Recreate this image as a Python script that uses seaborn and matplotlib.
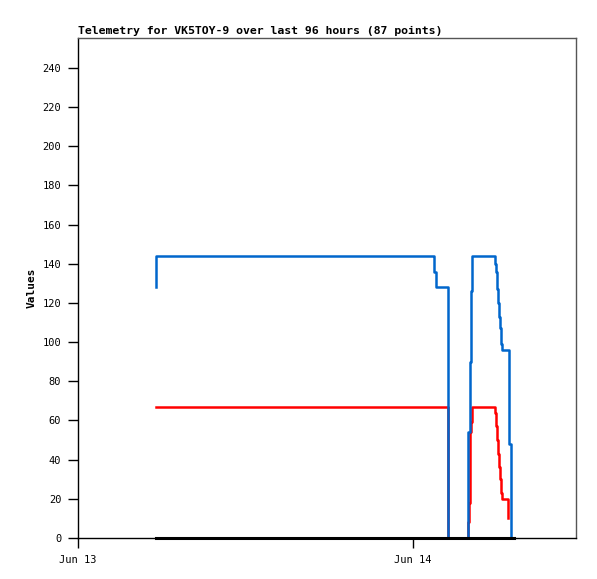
import numpy as np
import pandas as pd
import matplotlib
matplotlib.use("Agg")
import matplotlib.pyplot as plt
import matplotlib.dates as mdates
import seaborn as sns

# ── Telemetry (hours since Jun 13 00:00) ──
blue_hours = [5.59, 5.62, 25.45, 25.50, 25.65, 26.51, 27.96, 28.06, 28.13,
              28.21, 29.87, 29.97, 30.04, 30.09, 30.16, 30.23, 30.30, 30.37,
              30.90, 31.00]
blue_vals = [128, 144, 144, 136, 128, 0, 54, 90, 126,
             144, 140, 136, 127, 120, 113, 107, 99, 96,
             48, 0]

red_hours = [5.59, 26.51, 27.96, 28.00, 28.06, 28.08, 28.13, 28.21, 29.87,
             29.97, 30.04, 30.09, 30.16, 30.23, 30.30, 30.37, 30.82]
red_vals = [67, 0, 8, 18, 25, 54, 59, 67, 64,
            57, 50, 43, 36, 30, 23, 20, 10]

black_hours = [5.59, 31.24]
black_vals = [0, 0]

series_names = ["Value 2", "Value 1", "Value 3"]
series_colors = {"Value 1": "#0066CC", "Value 2": "#FF0000", "Value 3": "#000000"}

y_ticks = list(range(0, 241, 20))
x_tick_labels = ["Jun 13", "Jun 14"]
title = "Telemetry for VK5TOY-9 over last 96 hours (87 points)"

base = pd.Timestamp("2024-06-13")


def to_frame(name, hours, vals):
    return pd.DataFrame({
        "time": base + pd.to_timedelta(hours, unit="h"),
        "value": vals,
        "series": name,
    })


df = pd.concat([
    to_frame("Value 2", red_hours, red_vals),
    to_frame("Value 1", blue_hours, blue_vals),
    to_frame("Value 3", black_hours, black_vals),
], ignore_index=True)

plt.rcParams["font.family"] = ["DejaVu Sans Mono", "DejaVu Sans"]

fig = plt.figure(figsize=(5.97, 5.79), dpi=100)
ax = fig.add_axes([78 / 597, 41 / 579, 498 / 597, 500 / 579])

sns.lineplot(data=df, x="time", y="value", hue="series",
             hue_order=series_names, palette=series_colors,
             estimator=None, sort=False, drawstyle="steps-post",
             linewidth=1.8, legend=False, ax=ax)

# zero line sits on the axis and is drawn heavier
for line in ax.get_lines():
    line.set_clip_on(False)
ax.get_lines()[-1].set_linewidth(2.2)

ax.set_ylim(0, 255.3)
ax.set_xlim(base, base + pd.Timedelta(hours=35.68))
ax.set_yticks(y_ticks)
ax.set_xticks([base, base + pd.Timedelta(days=1)])
ax.set_xticklabels(x_tick_labels)
ax.tick_params(axis="both", labelsize=7.5, length=7, width=1, color="black",
               direction="out", pad=5)

ax.set_xlabel("")
ax.set_ylabel("Values", fontsize=8, fontweight="bold", labelpad=4)
ax.set_title(title, loc="left", fontsize=8.25, fontweight="bold", pad=3)

for side in ["left", "bottom"]:
    ax.spines[side].set_color("black")
    ax.spines[side].set_linewidth(1)
for side in ["top", "right"]:
    ax.spines[side].set_color("#555555")
    ax.spines[side].set_linewidth(1)

fig.savefig("out.png", dpi=100)
